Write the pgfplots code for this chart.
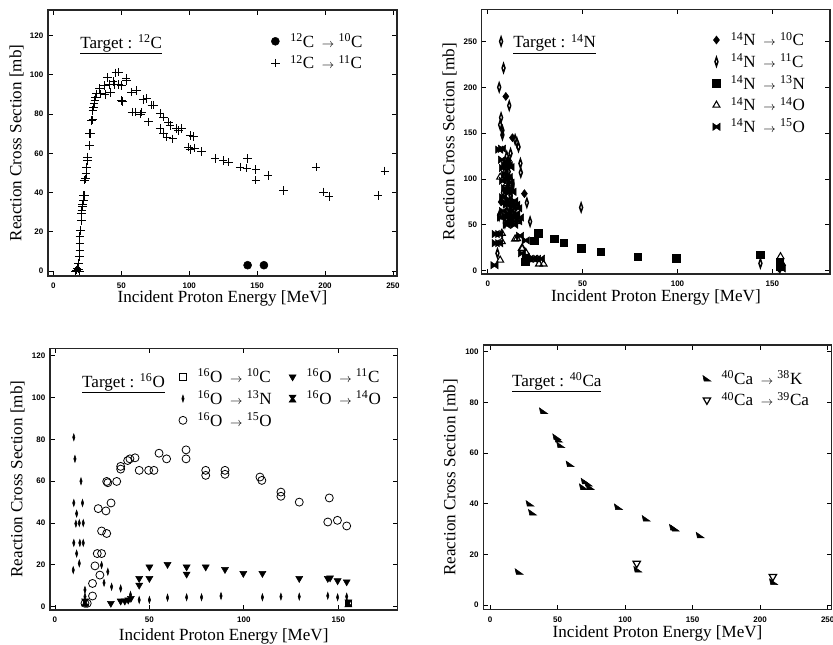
\documentclass[border=0pt]{standalone}
\usepackage{fontspec}
\setmainfont{Liberation Serif}
\setsansfont{Liberation Sans}
\usepackage{pgfplots}
\pgfplotsset{compat=1.18}

% custom marks
\pgfdeclareplotmark{bowtie}{%
  \pgfpathmoveto{\pgfqpoint{-\pgfplotmarksize}{\pgfplotmarksize}}%
  \pgfpathlineto{\pgfqpoint{0pt}{0.3\pgfplotmarksize}}%
  \pgfpathlineto{\pgfqpoint{\pgfplotmarksize}{\pgfplotmarksize}}%
  \pgfpathlineto{\pgfqpoint{\pgfplotmarksize}{-\pgfplotmarksize}}%
  \pgfpathlineto{\pgfqpoint{0pt}{-0.3\pgfplotmarksize}}%
  \pgfpathlineto{\pgfqpoint{-\pgfplotmarksize}{-\pgfplotmarksize}}%
  \pgfpathclose\pgfusepathqfillstroke}
\pgfdeclareplotmark{hourglass}{%
  \pgfpathmoveto{\pgfqpoint{-\pgfplotmarksize}{\pgfplotmarksize}}%
  \pgfpathlineto{\pgfqpoint{\pgfplotmarksize}{\pgfplotmarksize}}%
  \pgfpathlineto{\pgfqpoint{0.3\pgfplotmarksize}{0pt}}%
  \pgfpathlineto{\pgfqpoint{\pgfplotmarksize}{-\pgfplotmarksize}}%
  \pgfpathlineto{\pgfqpoint{-\pgfplotmarksize}{-\pgfplotmarksize}}%
  \pgfpathlineto{\pgfqpoint{-0.3\pgfplotmarksize}{0pt}}%
  \pgfpathclose\pgfusepathqfillstroke}
\pgfdeclareplotmark{corner}{%
  \pgfpathmoveto{\pgfqpoint{-\pgfplotmarksize}{0.7\pgfplotmarksize}}%
  \pgfpathlineto{\pgfqpoint{\pgfplotmarksize}{-0.7\pgfplotmarksize}}%
  \pgfpathlineto{\pgfqpoint{-0.7\pgfplotmarksize}{-0.7\pgfplotmarksize}}%
  \pgfpathclose\pgfusepathqfillstroke}

\newcommand{\lblfont}{\fontsize{12.8}{15}\selectfont}
\newcommand{\rx}[4]{\hspace{5pt}\textsuperscript{#1}#2\hspace{0.45em}{\fontsize{9}{9}\selectfont$\rightarrow$}\hspace{0.25em}\textsuperscript{#3}#4}

\tikzset{ttl/.style={anchor=base west, inner sep=0pt, font=\lblfont}}

\pgfplotsset{
  every axis/.append style={
    scale only axis,
    axis line style={line width=0.9pt, black!85},
    tick style={black, line width=0.6pt},
    major tick length=3.5pt,
    tick align=inside,
    xtick pos=both, ytick pos=both,
    tick label style={font=\sffamily\bfseries\fontsize{6}{7}\selectfont},
    xticklabel style={yshift=-2pt},
    /pgf/number format/assume math mode=true,
    label style={font=\lblfont, inner sep=0pt},
    xlabel={Incident Proton Energy [MeV]},
    ylabel={Reaction Cross Section [mb]},
    ylabel style={anchor=south},
    xlabel style={anchor=north},
    legend style={draw=none, fill=none, anchor=north west, font=\lblfont,
      legend cell align=left, row sep=2.5pt,
      nodes={inner ysep=1pt, inner xsep=3pt}},
  },
}

\begin{document}
\begin{tikzpicture}
\useasboundingbox (0,0) rectangle (624.75pt,483pt);

% ---- 12C ----
\begin{axis}[at={(36pt,276pt)}, anchor=south west,
  width=261.75pt, height=199.5pt,
  xmin=-4, xmax=253, ymin=-2.5, ymax=133,
  xtick={0,50,...,250}, ytick={0,20,...,120},
  xlabel style={at={(axis description cs:0.5,-0.053)}},
  ylabel style={at={(axis description cs:-0.069,0.5)}},
  legend style={at={(0.627,0.928)}}]
\addplot[only marks, mark=*, mark size=3pt, black] coordinates {(143,3)(155,3)};
\addlegendentry{\rx{12}{C}{10}{C}}
\addplot[only marks, mark=+, mark size=3.2pt, black, mark options={line width=0.7pt}] coordinates {
(16,0)(17,0.5)(17.5,1.5)(18.5,1)(19,0)(18.4,3.9)(19,7.3)(19.5,10.7)(19.5,14.1)(19.5,17.5)
(20,20.8)(20.5,25.9)(20.5,29.3)(21,31)(21.5,32.7)(21.5,34)(22,36.1)(22,38.6)(23,38.6)(23,46.3)
(23.5,47)(24,49.7)(24.5,53)(25,56.4)(25,58)(26.5,64)(26.5,70)(27.5,70)(28,76.8)(29,77)
(29,81.8)(29.5,83.5)(30,85.2)(30.5,86.9)(31,88.6)(31.7,90.3)(34,92.9)(35,90.3)(37.6,94.6)(38,90)
(40,98.5)(41,95)(42,91)(43.9,96.6)(45,95)(46,101)(47.9,101.3)(48,95)(50,87)(51,86.5)
(50.3,94.6)(53.5,98)(53.8,97)(57.5,91.2)(58,81)(60.3,81)(61.2,92)(64,80)(65,81)(66,87.5)
(68.8,87.8)(70,76)(72.5,84.5)(74,84.5)(78.6,80.2)(78.6,72.5)(81,78.5)(81,70)(83.5,68.3)(84.7,75.9)
(86,74.2)(88,67.4)(90.7,72.5)(92,71.7)(94.4,72.5)(99.3,63.2)(100.7,62)(100.7,69)(103,68.6)(104,62.7)
(109,61)(119,57.3)(125,56.4)(129,55.5)(137.5,53)(142.4,52.5)(143,57.3)(149,51.7)(149,46.3)(158,48.8)
(169.5,41)(193.5,53)(199,40.3)(203,38)(239,38.6)(244,51)};
\addlegendentry{\rx{12}{C}{11}{C}}
\node[ttl] at (rel axis cs:0.092,0.857) {\underline{Target : \textsuperscript{12}C}};
\end{axis}

% ---- 14N ----
\begin{axis}[at={(361.3pt,277.5pt)}, anchor=south west,
  width=261.2pt, height=198.5pt,
  xmin=-3.2, xmax=180.4, ymin=-3.6, ymax=285,
  xtick={0,50,...,150}, ytick={0,50,...,250},
  xlabel style={at={(axis description cs:0.5,-0.06)}},
  ylabel style={at={(axis description cs:-0.071,0.5)}},
  legend style={at={(0.651,0.93)}}]
\addplot[only marks, mark=diamond*, mark size=3pt, black] coordinates {
(9.5,190)(13,145)(19.3,84)(11,120)(7,75)(155,4)(12,66)};
\addlegendentry{\rx{14}{N}{10}{C}}
\addplot[only marks, mark=diamond, mark size=3.3pt, black, mark options={xscale=0.45, line width=1.1pt}] coordinates {
(7,250)(8.3,221)(6,200)(11.3,180)(7,167)(6.5,159)(7.7,153)(7.7,148)(14.4,143)(15.3,140)
(16.2,135)(17.2,117)(17.4,107)(20.6,74)(22.3,53.5)(49.2,69)(5.1,19)(143.7,8)(10,125)(12,128)
(9,110)(11,108)(13,95)(8,85)(12,82)(14,65)(6,60)(10,65)(13,55)(9,52)(154,3)};
\addlegendentry{\rx{14}{N}{11}{C}}
\addplot[only marks, mark=square*, mark size=2.8pt, black] coordinates {
(19.7,9.8)(24.6,32.7)(26.7,40.8)(35,35)(40,30.6)(49.2,24.4)(59.6,20.7)(79,15.3)(99.4,13.5)
(143.7,17.1)(153.9,9.8)(154.3,4.4)};
\addlegendentry{\rx{14}{N}{13}{N}}
\addplot[only marks, mark=triangle, mark size=3pt, black, mark options={line width=0.8pt}] coordinates {
(6.5,11.6)(7.4,40.8)(7.4,31.7)(6.5,102)(15.3,53.5)(14.4,34.6)(15.4,35)(18.3,24.4)(17.9,24.4)(20,20)
(22,12)(27,7.3)(29.4,7.3)(154.3,15.3)(155,8)(10,95)};
\addlegendentry{\rx{14}{N}{14}{O}}
\addplot[only marks, mark=bowtie, mark size=2.7pt, black, fill=black] coordinates {
(3.5,6)(4.2,30)(4.2,40)(6,40)(6,30)(6,132)(7.5,133)(7.5,121)(8,112)(9,115)
(10,118)(11,115)(12,113)(9,105)(10,100)(11,102)(12,96)(8,98)(9,90)(10,88)
(11,85)(12,90)(13,86)(8,80)(9,75)(10,72)(11,78)(12,74)(13,70)(14,76)
(15,72)(16,68)(8,65)(9,60)(10,58)(11,62)(12,56)(13,60)(14,58)(15,62)
(16,54)(7,58)(11,52)(10,50)(14,50)(17,58)(17,38)(20,33)(18,19)(20,15)
(22,13)(24,13)(26,13)(28,13)(155,2.5)};
\addlegendentry{\rx{14}{N}{15}{O}}
\node[ttl] at (rel axis cs:0.090,0.854) {\underline{Target : \textsuperscript{14}N}};
\end{axis}

% ---- 16O ----
\begin{axis}[at={(37.5pt,25.5pt)}, anchor=south west,
  width=260.5pt, height=196.3pt,
  xmin=-2.6, xmax=181.2, ymin=-1.6, ymax=123.6,
  xtick={0,50,...,150}, ytick={0,20,...,120},
  xlabel style={at={(axis description cs:0.5,-0.069)}},
  ylabel style={at={(axis description cs:-0.072,0.5)}},
  legend columns=2,
  legend style={at={(0.359,0.937)}, /tikz/every even column/.append style={column sep=10pt}}]
\addplot[only marks, mark=square, mark size=2.3pt, black, mark options={line width=0.7pt}] coordinates {(155.3,1.6)};
\addlegendentry{\rx{16}{O}{10}{C}}
\addplot[only marks, mark=triangle*, mark size=3pt, black, mark options={rotate=180}] coordinates {
(29.6,1.6)(34.8,2.7)(37,2.7)(38.8,3.2)(40.2,4)(44.6,10.3)(44.6,13.5)(50,13.5)(50,19)(59.6,20.2)
(69.7,19)(69.7,15.6)(79.8,19)(90,17.8)(99.7,15.9)(109.8,15.9)(129.3,13.5)(144.4,13.5)(145.6,13.8)(149.6,12.4)
(154.4,11.9)};
\addlegendentry{\rx{16}{O}{11}{C}}
\addplot[only marks, mark=diamond*, mark size=2.6pt, black, mark options={xscale=0.45}] coordinates {
(10,81)(10.6,70.7)(10,49.6)(11.5,44.5)(11.1,39.7)(14.6,49.6)(13.8,60)(12.9,40)(15,40)(10,30.5)
(13.2,30.5)(15,30.5)(11.5,25.4)(12.9,20.7)(9.7,17.5)(15.9,8)(15.9,4.8)(24.7,19.9)(26,11.4)(28,16.7)
(30,9.5)(34.8,8.7)(40,5.6)(44.6,3.2)(50,3.2)(59.6,4.3)(69.7,4.5)(77.6,4.5)(87.9,5.1)(109.8,4.5)
(119.6,4.8)(129.3,4.8)(144.4,5.2)(149.6,4.5)(154.4,4.8)(154.4,2.4)};
\addlegendentry{\rx{16}{O}{13}{N}}
\addplot[only marks, mark=hourglass, mark size=2.6pt, black, fill=black] coordinates {(155.3,1.6)(16,2)};
\addlegendentry{\rx{16}{O}{14}{O}}
\addplot[only marks, mark=o, mark size=3pt, black, mark options={line width=0.6pt}] coordinates {
(15.9,1.6)(17.1,1.6)(19.9,11.1)(19.9,5.1)(21.2,19.5)(22.9,46.9)(23.8,15.1)(22.4,25.4)(24.7,25.4)(24.7,36.2)
(27,45.8)(27.4,35)(27.4,59.9)(28,59.3)(29.7,49.6)(32.7,59.9)(34.8,65.8)(34.8,67.1)(38.5,69.9)(39.7,70.7)
(42.4,71.2)(44.6,65.2)(49.6,65.2)(52.4,65.2)(55.1,73.4)(59.1,70.7)(69.4,75)(69.4,70.7)(79.8,65.2)(79.8,62.8)
(90,65.2)(90,63.3)(108.5,62)(109.5,60.4)(119.6,54.8)(119.6,52.8)(129.3,50)(145.2,52)(144.4,40.5)(149.5,41.3)
(154.4,38.6)};
\addlegendentry{\rx{16}{O}{15}{O}}
\node[ttl] at (rel axis cs:0.092,0.852) {\underline{Target : \textsuperscript{16}O}};
\end{axis}

% ---- 40Ca ----
\begin{axis}[at={(362.5pt,26pt)}, anchor=south west,
  width=261.3pt, height=198.2pt,
  xmin=-5, xmax=253, ymin=-1.7, ymax=102.6,
  xtick={0,50,...,250}, ytick={0,20,...,100},
  xlabel style={at={(axis description cs:0.5,-0.061)}},
  ylabel style={at={(axis description cs:-0.073,0.5)}},
  legend style={at={(0.618,0.92)}}]
\addplot[only marks, mark=corner, mark size=3pt, black, fill=black] coordinates {
(39.5,76.7)(49.4,66.4)(50.6,65.4)(52.3,63.2)(59.3,55.7)(70.4,48.9)(69.1,46.7)(72.8,48)(74,46.7)(29.6,40.1)
(31.4,36.6)(95,38.8)(115.6,34.2)(135.8,30.7)(137,30.3)(155.6,27.6)(21.5,13.2)(109.4,14.1)(209.9,9.2)};
\addlegendentry{\rx{40}{Ca}{38}{K}}
\addplot[only marks, mark=triangle, mark size=3.2pt, black, mark options={rotate=180, line width=0.9pt}] coordinates {
(108.6,16.4)(209.4,11.2)};
\addlegendentry{\rx{40}{Ca}{39}{Ca}}
\node[ttl] at (rel axis cs:0.082,0.845) {\underline{Target : \textsuperscript{40}Ca}};
\end{axis}
\end{tikzpicture}
\end{document}
